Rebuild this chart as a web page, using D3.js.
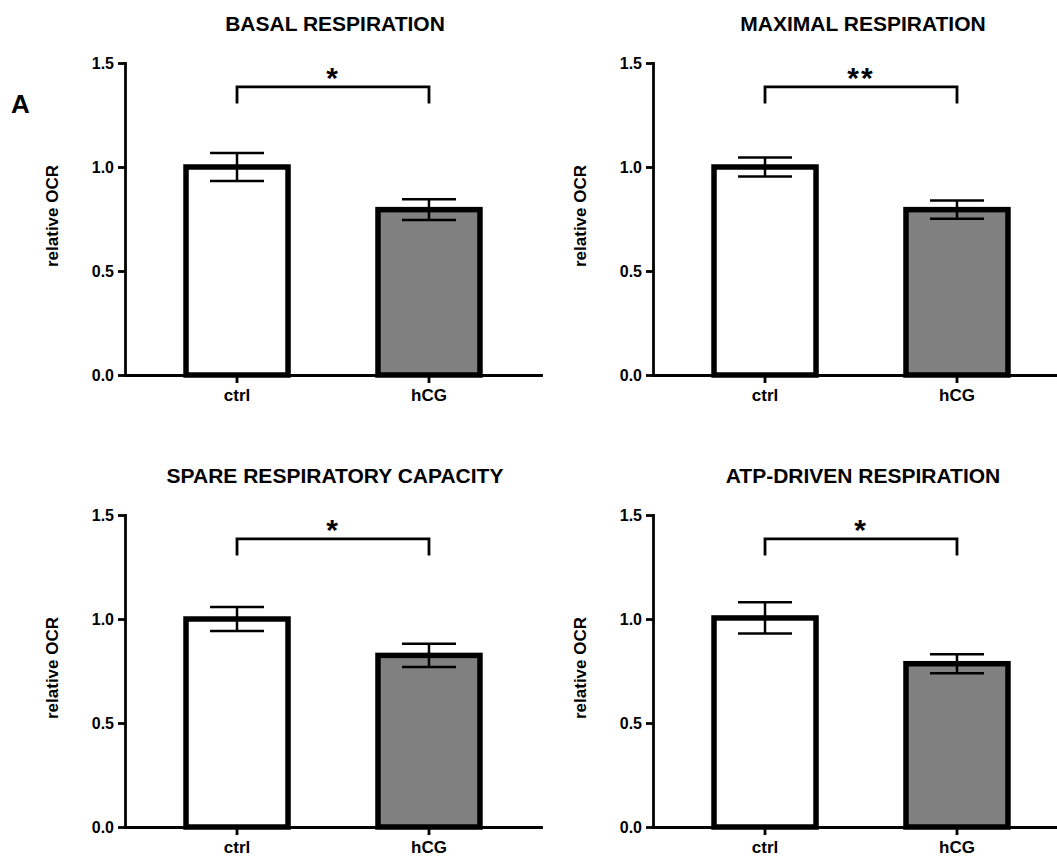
<!DOCTYPE html>
<html>
<head>
<meta charset="utf-8">
<script src="https://cdn.jsdelivr.net/npm/d3@7"></script>
<style>
  body { margin: 0; background: #fff; }
  text { font-family: "Liberation Sans", Arial, sans-serif; font-weight: bold; fill: #000; }
</style>
</head>
<body>
<div id="chart"></div>
<script>
// data
var categories = ["ctrl", "hCG"];
var titles = ["BASAL RESPIRATION", "MAXIMAL RESPIRATION", "SPARE RESPIRATORY CAPACITY", "ATP-DRIVEN RESPIRATION"];
var means = [[1.0, 0.795], [1.0, 0.795], [1.0, 0.825], [1.005, 0.785]];
var sems = [[0.067, 0.05], [0.046, 0.044], [0.058, 0.056], [0.075, 0.046]];
var stars = ["*", "**", "*", "*"];
var yTicks = [0, 0.5, 1.0, 1.5];
var barFills = ["#ffffff", "#808080"];

var width = 1057, height = 858;
var colX = [125, 653], rowY = [63, 515];
var plotW = 416, plotH = 312;

var svg = d3.select("#chart").append("svg")
    .attr("width", width)
    .attr("height", height);

svg.append("text")
    .attr("x", 11).attr("y", 113)
    .style("font-size", "26px")
    .text("A");

titles.forEach(function(title, i) {
    var g = svg.append("g")
        .attr("transform", "translate(" + colX[i % 2] + "," + rowY[Math.floor(i / 2)] + ")");

    var y = d3.scaleLinear().domain([0, 1.5]).range([plotH, 0]);
    var x = d3.scaleBand().domain(categories).range([0, plotW])
        .paddingInner(0.44).paddingOuter(0.3035);
    var bw = x.bandwidth() - 5.5;

    // title
    g.append("text")
        .attr("x", 210).attr("y", -32)
        .attr("text-anchor", "middle")
        .style("font-size", "21px")
        .text(title);

    // y label
    g.append("text")
        .attr("transform", "translate(-67," + (plotH / 2 - 3) + ") rotate(-90)")
        .attr("text-anchor", "middle")
        .style("font-size", "17px")
        .text("relative OCR");

    // bars
    g.selectAll(".bar")
        .data(categories)
        .enter().append("rect")
        .attr("class", "bar")
        .attr("x", function(d) { return x(d) + x.bandwidth() / 2 - bw / 2; })
        .attr("y", function(d, j) { return y(means[i][j]); })
        .attr("width", bw)
        .attr("height", function(d, j) { return y(0) - y(means[i][j]); })
        .attr("fill", function(d, j) { return barFills[j]; })
        .attr("stroke", "#000")
        .attr("stroke-width", 5.5);

    // error bars
    var err = g.selectAll(".err")
        .data(categories)
        .enter().append("g")
        .attr("class", "err")
        .attr("transform", function(d) { return "translate(" + (x(d) + x.bandwidth() / 2) + ",0)"; })
        .attr("stroke", "#000")
        .attr("stroke-width", 2.5);
    err.append("line")
        .attr("y1", function(d, j) { return y(means[i][j] - sems[i][j]); })
        .attr("y2", function(d, j) { return y(means[i][j] + sems[i][j]); });
    err.selectAll(".cap")
        .data(function(d, j) { return [means[i][j] - sems[i][j], means[i][j] + sems[i][j]]; })
        .enter().append("line")
        .attr("x1", -27).attr("x2", 27)
        .attr("y1", function(v) { return y(v); })
        .attr("y2", function(v) { return y(v); });

    // axes
    var yAxis = g.append("g")
        .call(d3.axisLeft(y).tickValues(yTicks).tickFormat(d3.format(".1f"))
            .tickSize(7).tickSizeOuter(0).tickPadding(4));
    var xAxis = g.append("g")
        .attr("transform", "translate(0," + plotH + ")")
        .call(d3.axisBottom(x).tickSize(8).tickSizeOuter(0).tickPadding(6));
    [yAxis, xAxis].forEach(function(ax) {
        ax.selectAll("path, line").attr("stroke", "#000").attr("stroke-width", 2.8);
        ax.select(".domain").attr("stroke-linecap", "square");
        ax.selectAll("text").style("font-size", "16px").attr("fill", "#000");
    });
    xAxis.selectAll("text").style("font-size", "17px");

    // significance bracket
    var x1 = x(categories[0]) + x.bandwidth() / 2,
        x2 = x(categories[1]) + x.bandwidth() / 2;
    g.append("path")
        .attr("d", "M" + x1 + "," + y(1.305) + "V" + y(1.385) + "H" + x2 + "V" + y(1.305))
        .attr("fill", "none")
        .attr("stroke", "#000")
        .attr("stroke-width", 2.8);
    g.append("text")
        .attr("x", (x1 + x2) / 2).attr("y", y(1.385) + 1)
        .attr("text-anchor", "middle")
        .style("font-size", "30px")
        .style("letter-spacing", "2px")
        .text(stars[i]);
});
</script>
</body>
</html>
